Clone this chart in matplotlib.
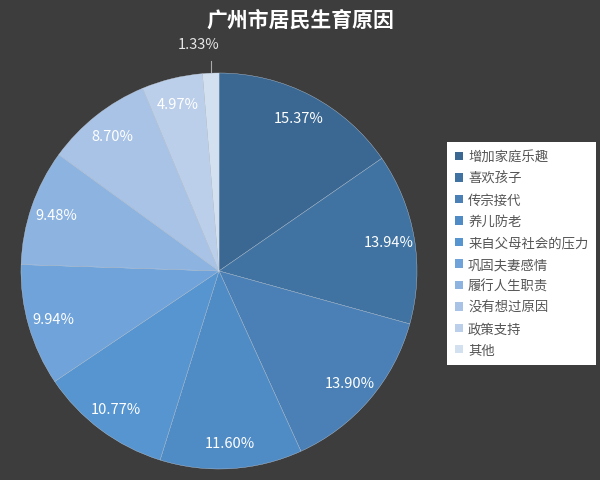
import matplotlib
matplotlib.use("Agg")
import matplotlib.pyplot as plt
import numpy as np
from matplotlib.patches import Patch

plt.rcParams['font.family'] = ['Noto Sans CJK SC', 'DejaVu Sans']

title = "广州市居民生育原因"
reasons = ["增加家庭乐趣", "喜欢孩子", "传宗接代", "养儿防老", "来自父母社会的压力",
           "巩固夫妻感情", "履行人生职责", "没有想过原因", "政策支持", "其他"]
shares = [15.37, 13.94, 13.90, 11.60, 10.77, 9.94, 9.48, 8.70, 4.97, 1.33]
colors = ["#3b6892", "#4073a2", "#4a80b6", "#4f8bc5", "#5795d0",
          "#6fa3d9", "#8db3e0", "#a8c3e6", "#bccfea", "#d3e0f0"]

bg = "#3d3d3d"
fig = plt.figure(figsize=(6.0, 4.81), dpi=100, facecolor=bg)

cx, cy, r = 219, 272, 198
W, H = 600, 481
ax = fig.add_axes([(cx - r) / W, (H - cy - r) / H, 2 * r / W, 2 * r / H])
ax.set_facecolor(bg)

wedges, texts = ax.pie(shares, colors=colors, startangle=90, counterclock=False,
                       radius=1.0, labels=None,
                       wedgeprops=dict(edgecolor="#c9d5e3", linewidth=0.25))

total = sum(shares)
acc = 0.0
for i, v in enumerate(shares):
    mid = 90 - (acc + v / 2) / total * 360
    acc += v
    lab = f"{v:.2f}%"
    if v < 2:
        # tiny slice gets an outside label with a short leader
        x0, y0 = np.cos(np.radians(mid)), np.sin(np.radians(mid))
        ax.plot([x0, x0], [y0 + 0.005, y0 + 0.06], color="#aaaaaa", lw=0.8, clip_on=False)
        ax.text(x0 - 0.06, y0 + 0.11, lab, ha="center", va="bottom", color="#e6e6e6",
                fontsize=10.5)
        continue
    d = 0.87
    ax.text(d * np.cos(np.radians(mid)), d * np.sin(np.radians(mid)), lab,
            ha="center", va="center", color="white", fontsize=10.5)

ax.set_xlim(-1, 1)
ax.set_ylim(-1, 1)
ax.set_aspect("equal")
ax.axis("off")

fig.text(0.5, 1 - 20 / H, title, ha="center", va="center", color="white",
         fontsize=15, fontweight="bold")

handles = [Patch(facecolor=c, edgecolor="none") for c in colors]
leg = fig.legend(handles, reasons, loc="upper left",
                 bbox_to_anchor=(447 / W, 1 - 143 / H), frameon=True, framealpha=1,
                 fontsize=9.6, handlelength=0.6, handleheight=0.6,
                 handletextpad=0.4, labelspacing=0.56, borderpad=0.58,
                 borderaxespad=0, fancybox=False)
leg.get_frame().set_facecolor("white")
leg.get_frame().set_edgecolor("white")
leg.get_frame().set_linewidth(0)
for t in leg.get_texts():
    t.set_color("#555555")

fig.savefig("out.png", dpi=100, facecolor=bg)
